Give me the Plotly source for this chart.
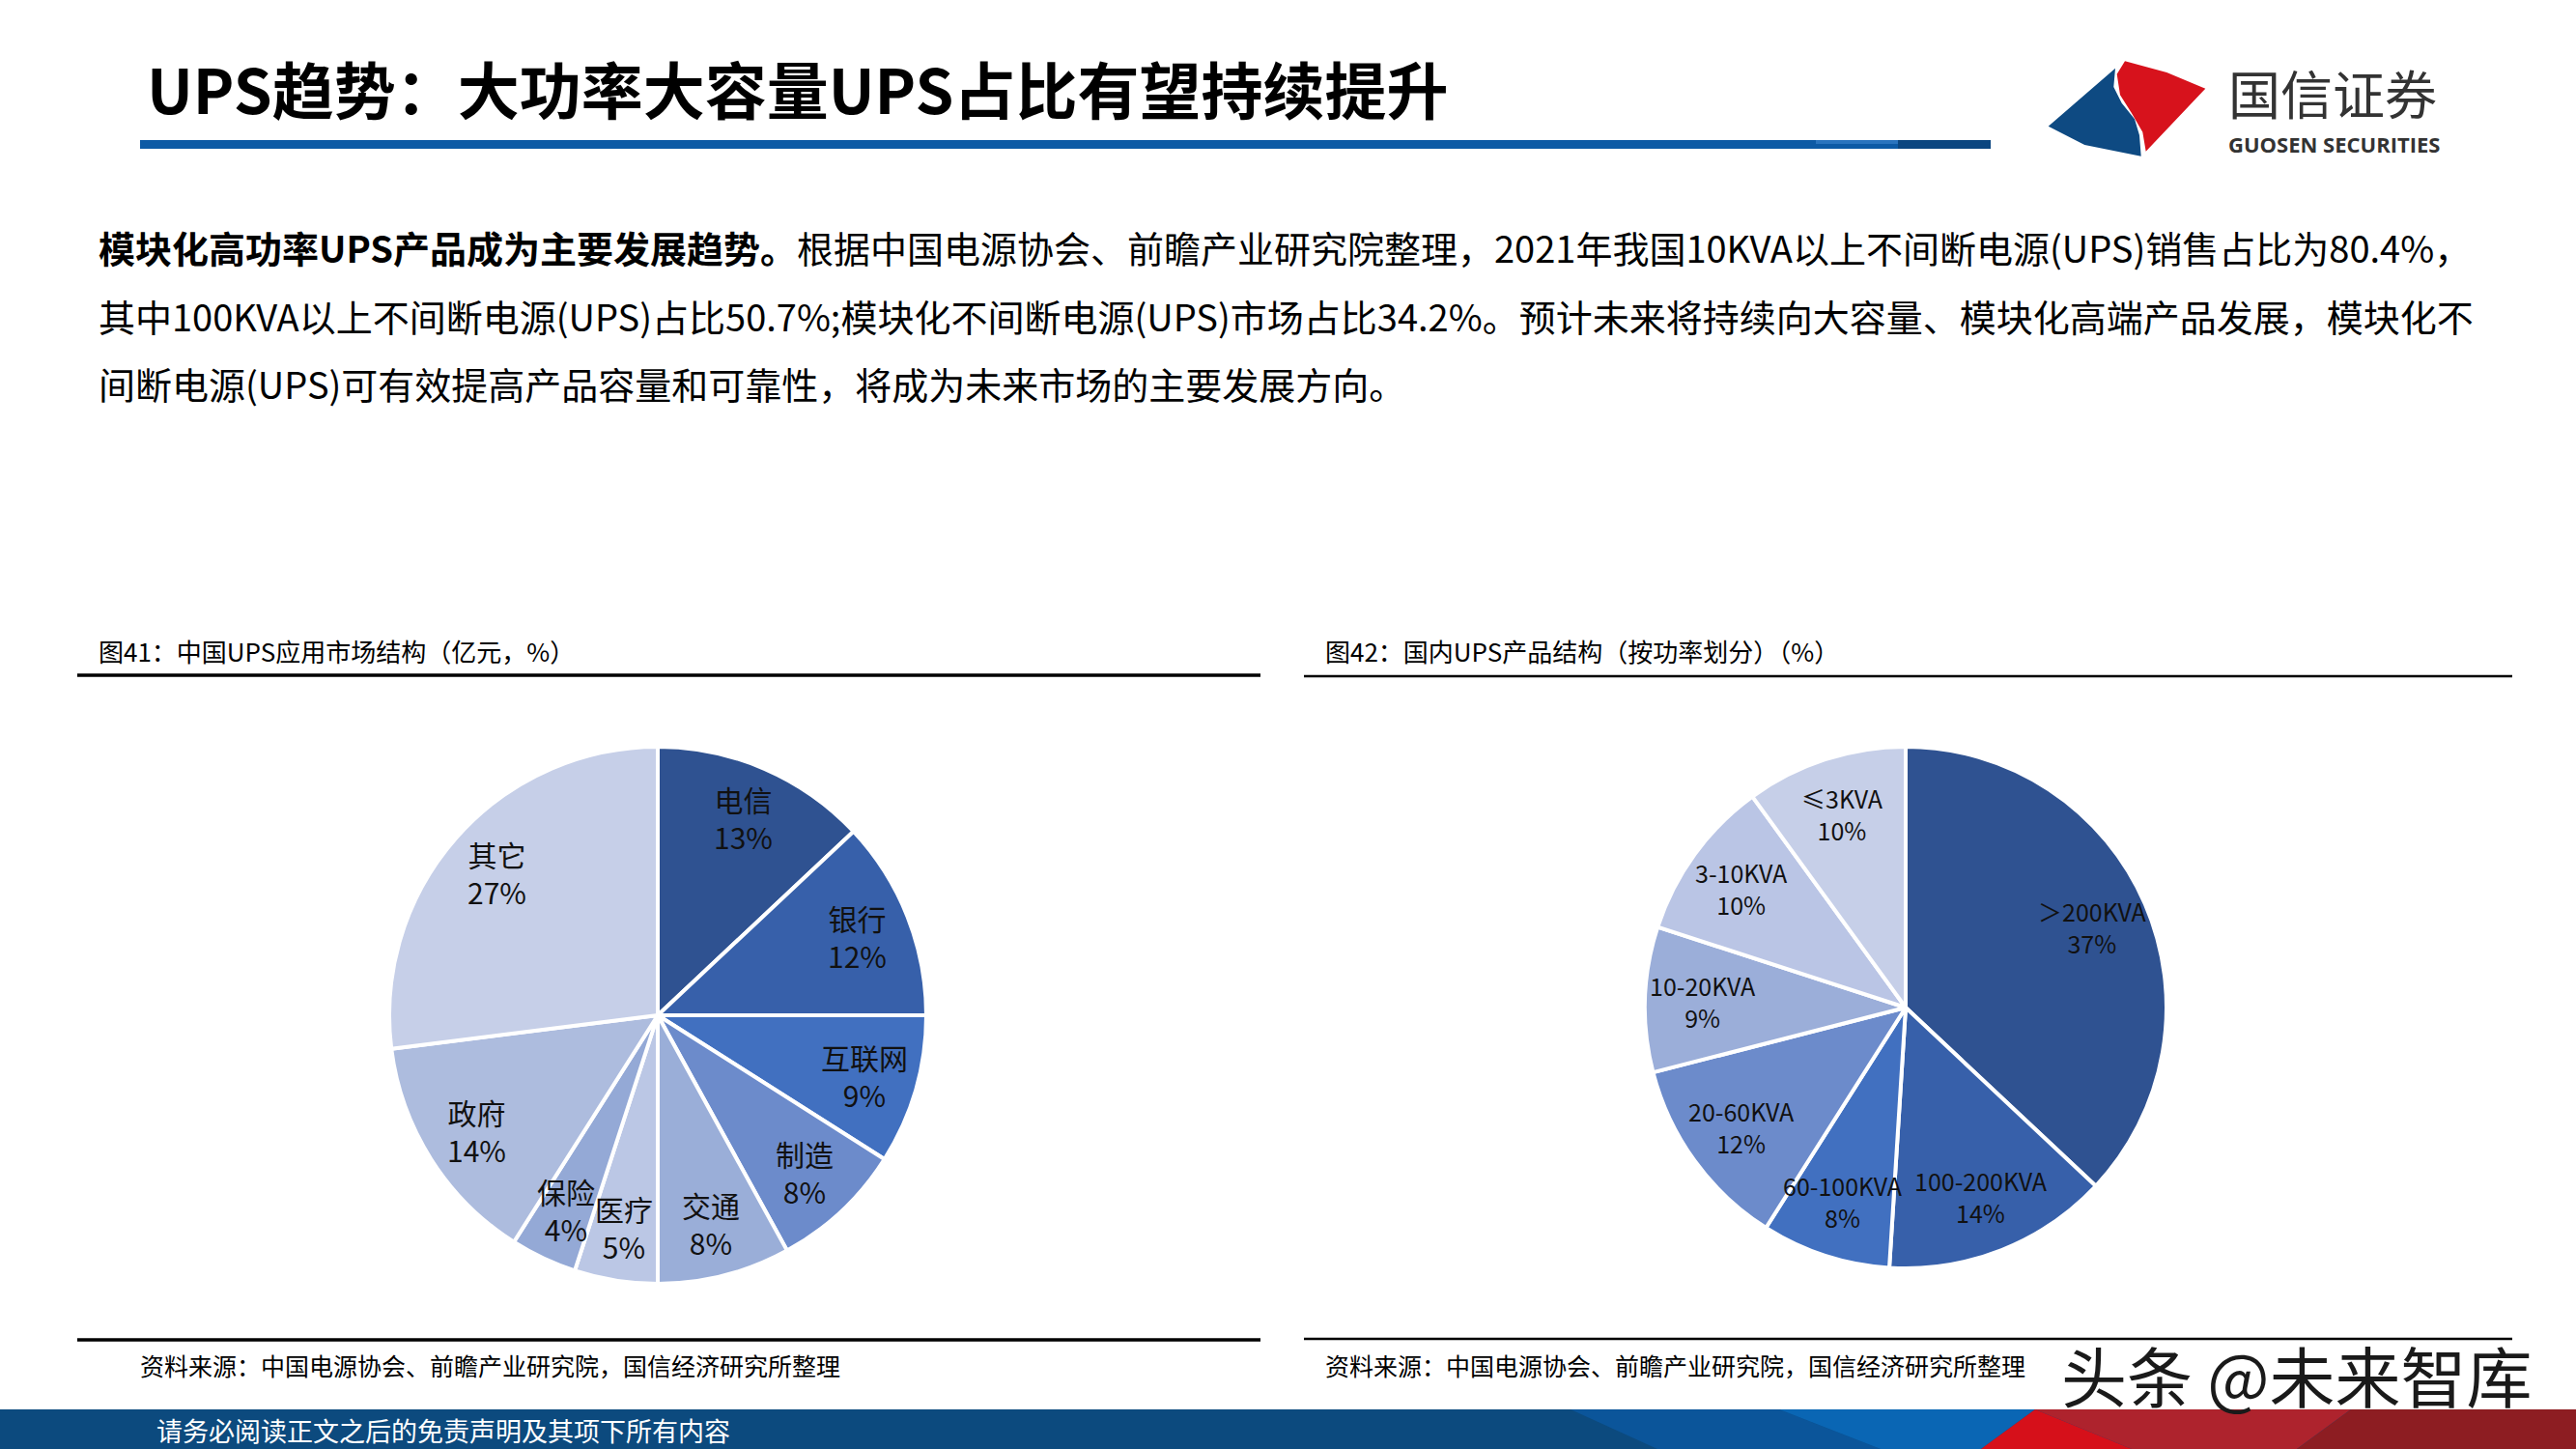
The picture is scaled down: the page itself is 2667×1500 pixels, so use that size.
import math
import plotly.graph_objects as go

# ---------------- data ----------------
app_labels = ["电信", "银行", "互联网", "制造", "交通", "医疗", "保险", "政府", "其它"]
app_values = [13, 12, 9, 8, 8, 5, 4, 14, 27]
app_colors = ["#2F5291", "#3760AA", "#4170C0", "#6C8BCB", "#9AAED8", "#BBC7E5", "#94A9D6", "#ADBCDE", "#C6CFE8"]

power_labels = ["＞200KVA", "100-200KVA", "60-100KVA", "20-60KVA", "10-20KVA", "3-10KVA", "≤3KVA"]
power_values = [37, 14, 8, 12, 9, 10, 10]
power_colors = ["#2F5291", "#3760AA", "#4170C0", "#6C8BCB", "#9BAED9", "#BAC5E5", "#C6CFE8"]

title_text = "UPS趋势：大功率大容量UPS占比有望持续提升"
body_lines = [
    "<b>模块化高功率UPS产品成为主要发展趋势。</b>根据中国电源协会、前瞻产业研究院整理，2021年我国10KVA以上不间断电源(UPS)销售占比为80.4%，",
    "其中100KVA以上不间断电源(UPS)占比50.7%;模块化不间断电源(UPS)市场占比34.2%。预计未来将持续向大容量、模块化高端产品发展，模块化不",
    "间断电源(UPS)可有效提高产品容量和可靠性，将成为未来市场的主要发展方向。",
]
chart1_title = "图41：中国UPS应用市场结构（亿元，%）"
chart2_title = "图42：国内UPS产品结构（按功率划分）（%）"
source_text = "资料来源：中国电源协会、前瞻产业研究院，国信经济研究所整理"
footer_text = "请务必阅读正文之后的免责声明及其项下所有内容"
watermark = "头条 @未来智库"

# ---------------- layout helpers ----------------
W, H = 2667, 1500
FONT = "Noto Sans CJK SC"


def px(x):
    return x / W


def py(y):
    return 1 - y / H


def path(points):
    s = "M " + " L ".join(f"{px(x):.5f},{py(y):.5f}" for x, y in points) + " Z"
    return s


fig = go.Figure()

pies = [
    dict(labels=app_labels, values=app_values, colors=app_colors, cx=681, cy=1051, r=278, f=0.80, fs=30),
    dict(labels=power_labels, values=power_values, colors=power_colors, cx=1973, cy=1043, r=270, f=0.78, fs=25),
]

annotations = []
for p in pies:
    fig.add_trace(go.Pie(
        labels=p["labels"], values=p["values"],
        marker=dict(colors=p["colors"], line=dict(color="white", width=4)),
        sort=False, direction="clockwise", rotation=0,
        textinfo="none", hoverinfo="label+percent", showlegend=False,
        domain=dict(x=[px(p["cx"] - p["r"]), px(p["cx"] + p["r"])],
                    y=[py(p["cy"] + p["r"]), py(p["cy"] - p["r"])]),
    ))
    total = sum(p["values"])
    cum = 0
    for lab, v in zip(p["labels"], p["values"]):
        mid = (cum + v / 2) / total * 2 * math.pi
        cum += v
        x = p["cx"] + p["f"] * p["r"] * math.sin(mid)
        y = p["cy"] - p["f"] * p["r"] * math.cos(mid)
        annotations.append(dict(
            x=px(x), y=py(y), xref="paper", yref="paper", showarrow=False,
            text=f"{lab}<br>{round(v / total * 100)}%",
            font=dict(family=FONT, size=p["fs"], color="#111111"),
            xanchor="center", yanchor="middle", align="center",
        ))

# title
annotations.append(dict(x=px(150), y=py(90), xref="paper", yref="paper", showarrow=False,
                        text=f"<b>{title_text}</b>", xanchor="left", yanchor="middle",
                        font=dict(family=FONT, size=64, color="#000000")))
# body
for i, line in enumerate(body_lines):
    annotations.append(dict(x=px(100), y=py(256 + 70 * i), xref="paper", yref="paper", showarrow=False,
                            text=line, xanchor="left", yanchor="middle",
                            font=dict(family=FONT, size=38, color="#000000")))
# chart titles
annotations.append(dict(x=px(100), y=py(673), xref="paper", yref="paper", showarrow=False,
                        text=chart1_title, xanchor="left", yanchor="middle",
                        font=dict(family=FONT, size=26, color="#000000")))
annotations.append(dict(x=px(1370), y=py(673), xref="paper", yref="paper", showarrow=False,
                        text=chart2_title, xanchor="left", yanchor="middle",
                        font=dict(family=FONT, size=26, color="#000000")))
# sources
for sx in (143, 1370):
    annotations.append(dict(x=px(sx), y=py(1413), xref="paper", yref="paper", showarrow=False,
                            text=source_text, xanchor="left", yanchor="middle",
                            font=dict(family=FONT, size=25, color="#000000")))
# logo text
annotations.append(dict(x=px(2306), y=py(95), xref="paper", yref="paper", showarrow=False,
                        text="国信证券", xanchor="left", yanchor="middle", borderpad=0,
                        font=dict(family=FONT, size=54, color="#333333")))
annotations.append(dict(x=px(2306), y=py(149), xref="paper", yref="paper", showarrow=False,
                        text="<b>GUOSEN SECURITIES</b>", xanchor="left", yanchor="middle", borderpad=0,
                        font=dict(family="Open Sans", size=22, color="#333333")))
# footer text
annotations.append(dict(x=px(160), y=py(1480), xref="paper", yref="paper", showarrow=False,
                        text=footer_text, xanchor="left", yanchor="middle",
                        font=dict(family=FONT, size=27, color="#ffffff")))
# watermark
annotations.append(dict(x=px(2132), y=py(1422), xref="paper", yref="paper", showarrow=False,
                        text=watermark, xanchor="left", yanchor="middle",
                        font=dict(family=FONT, size=68, color="#1a1a1a")))

shapes = []


def rect(x0, y0, x1, y1, color):
    shapes.append(dict(type="rect", xref="paper", yref="paper",
                       x0=px(x0), x1=px(x1), y0=py(y1), y1=py(y0),
                       fillcolor=color, line=dict(width=0), layer="below"))


def poly(points, color, layer="above"):
    shapes.append(dict(type="path", xref="paper", yref="paper", path=path(points),
                       fillcolor=color, line=dict(width=0), layer=layer))


def hline(x0, x1, y, w, color="#000000"):
    shapes.append(dict(type="line", xref="paper", yref="paper",
                       x0=px(x0), x1=px(x1), y0=py(y), y1=py(y),
                       line=dict(color=color, width=w)))


# title rule
rect(145, 145, 2061, 154, "#0D5AA5")
rect(1880, 145, 1965, 149, "#2A74BE")
rect(1965, 145, 2061, 154, "#0B4680")

# logo shapes
poly([(2120.7, 130.7), (2190, 70.7), (2188.3, 90), (2196.7, 106.7), (2210, 123.3),
      (2215, 140), (2216.7, 161.7), (2158.3, 150)], "#0E4A82")
poly([(2200, 63.3), (2243.3, 75), (2283.3, 91.7), (2221.7, 156.7), (2218.3, 136.7),
      (2206.7, 116.7), (2195, 98.3), (2191.7, 76.7)], "#D7121C")

# chart rules
hline(80, 1305, 699, 3.5)
hline(1350, 2601, 700, 2.5)
hline(80, 1305, 1387, 3.5)
hline(1350, 2601, 1386, 2.5)

# footer band
rect(0, 1459, 2667, 1500, "#0C4A7E")
poly([(1626, 1459), (1842, 1459), (1947, 1500), (1716, 1500)], "#0B559A", layer="below")
poly([(1842, 1459), (2107, 1459), (2051, 1500), (1947, 1500)], "#0A66B4", layer="below")
poly([(2107, 1459), (2434, 1459), (2378, 1500), (2207, 1500)], "#AE232D", layer="below")
poly([(2051, 1500), (2107, 1459), (2207, 1500)], "#D6101A", layer="below")
poly([(2434, 1459), (2667, 1459), (2667, 1500), (2378, 1500)], "#8D1D22", layer="below")

fig.update_layout(
    width=W, height=H,
    margin=dict(l=0, r=0, t=0, b=0, pad=0),
    paper_bgcolor="white", plot_bgcolor="white",
    annotations=annotations, shapes=shapes,
    font=dict(family=FONT),
)

fig.write_html("out.html", config={"displayModeBar": False})
